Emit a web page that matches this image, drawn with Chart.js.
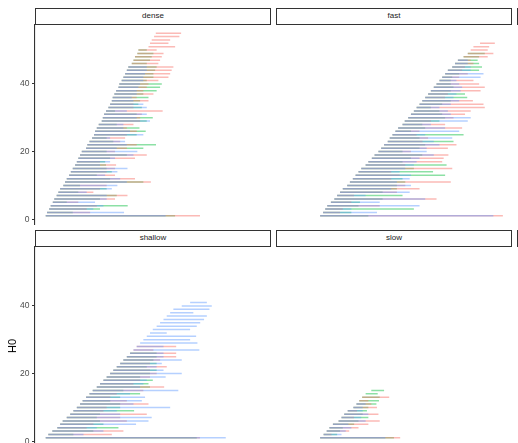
<!DOCTYPE html>
<html><head><meta charset="utf-8">
<script src="https://cdn.jsdelivr.net/npm/chart.js@4.4.0/dist/chart.umd.min.js"></script>
<style>
html,body{margin:0;padding:0;background:#fff;overflow:hidden;width:518px;height:443px;position:relative;}
.strip{position:absolute;box-sizing:border-box;border:1.2px solid #333;background:#fff;height:17px;font:8px "Liberation Sans",Arial,sans-serif;color:#1a1a1a;text-align:center;line-height:14.5px;}
canvas{position:absolute;}
#ytitle{position:absolute;left:12px;top:346px;transform:translate(-50%,-50%) rotate(-90deg);font:11px "Liberation Sans",Arial,sans-serif;color:#000;white-space:nowrap;}
</style></head><body>
<script>
// ---------- data (x in arbitrary time units, rows = H0) ----------
const facets = ['dense','fast','shallow','slow'];
const yTicks = [0,20,40];

const denseStart = [0,0.6,1.6,2.3,3.3,4.0,5.1,5.9,6.7,8.2,9.0,9.8,10.9,11.7,12.6,13.7,14.5,15.2,16.0,16.8,18.8,19.4,20.4,21.6,22.5,23.0,23.8,24.7,26.1,26.6,27.2,28.1,29.2,30.0,30.8,31.2,32.0,32.8,33.9,34.3,35.4,36.2,37.0,37.8,38.5,40.1,40.9,41.6,42.7,43.2,47.9,48.6,49.4,50.5,51.3];
const denseRed = [71.9,20.7,19.1,23.8,15.2,32.3,38.1,22.2,25.3,28.4,49.0,41.6,32.3,28.4,32.3,32.8,25.3,41.6,47.1,32.3,37.8,42.4,34.7,37.0,37.8,42.4,37.8,40.9,44.0,44.0,44.8,54.5,40.9,40.9,47.9,42.4,50.2,45.5,47.1,47.9,52.5,57.2,58.0,58.7,59.5,52.5,53.3,54.1,54.9,51.7,60.3,57.2,58.0,62.3,63.1];
const denseGreen = [60.3,12.6,25.3,38.2,9.8,25.3,33.1,15.2,28.4,16.0,45.5,30.0,23.8,30.8,28.4,28.1,27.7,30.0,37.8,28.4,45.5,51.4,31.5,28.4,42.4,46.6,43.7,33.1,47.1,49.9,42.4,32.3,44.8,43.2,44.0,47.9,45.5,51.7,53.3,54.1,47.1,50.2,50.2,51.0,51.7,47.1,48.6,49.4,50.2,47.1,null,null,null,null,null];
const denseBlue = [55.9,36.5,22.2,26.9,23.0,28.4,28.4,19.1,30.8,33.4,37.8,34.7,27.7,33.4,38.1,25.3,30.0,32.3,40.9,42.7,33.1,37.8,37.0,30.0,45.5,39.3,36.2,36.2,48.6,42.4,47.1,37.8,47.1,45.5,40.9,40.1,42.4,42.4,43.2,44.0,45.5,45.5,46.3,47.1,47.1,null,null,null,null,null,null,null,null,null,null];

const fastStart = [0,1.6,2.8,3.9,5.9,7.8,9.3,10.9,12.4,14.8,16.3,17.9,19.4,21.0,22.5,24.9,26.4,28.3,29.8,31.9,33.4,35.0,37.0,38.1,39.6,41.2,42.7,45.1,46.3,48.2,49.7,51.3,52.8,54.4,55.9,57.5,59.1,60.6,62.2,63.7,65.3,66.8,68.4,69.9,72.3,73.8,75.4,78.5,80.8,82.4,83.9,87.5];
const fastRed = [100,10.9,12.4,32.6,17.1,63.7,18.6,42.0,54.4,46.6,71.5,38.9,43.5,38.9,72.3,46.6,66.8,67.6,70.2,49.7,69.9,74.6,56.0,59.1,52.8,54.4,77.7,68.4,60.6,73.0,79.3,82.4,90.1,89.4,83.6,68.4,69.9,87.8,90.1,87.0,83.9,76.1,80.8,77.7,79.3,83.9,82.4,91.7,94.8,91.7,92.5,95.6];
const fastGreen = [26.4,17.1,51.3,21.0,21.8,34.2,45.1,34.2,42.0,42.0,46.6,45.1,68.4,61.8,51.3,69.2,45.1,49.7,55.9,45.1,54.4,57.5,73.0,54.4,78.5,49.7,57.5,55.9,65.3,68.4,66.8,65.3,60.6,66.8,71.5,80.5,79.3,71.5,73.0,71.5,71.5,72.3,76.1,87.0,88.6,87.0,86.2,87.0,90.1,null,null,null];
const fastBlue = [94.8,31.1,17.1,54.4,32.6,57.5,24.9,49.0,38.9,49.7,42.0,49.0,49.7,43.5,46.6,51.3,52.8,54.4,62.2,58.3,58.3,65.3,62.2,72.3,57.5,76.1,68.4,60.6,80.8,82.4,71.5,69.9,65.3,71.5,76.1,73.0,74.6,76.9,77.7,76.1,74.6,87.8,89.4,82.4,82.4,80.8,80.8,null,null,null,null,null];

const shallowStart = [0,1.2,3.1,5.4,6.7,7.9,9.8,11.4,12.9,14.5,16.0,17.2,18.8,20.4,21.9,23.8,25.3,26.9,28.4,30.0,31.5,33.1,34.7,36.2,37.8,39.3,40.9,42.4,44.0,45.5,47.1,48.6,49.9,51.7,53.3,54.9,56.4,58.0,59.5,63.4,67.3];
const shallowRed = [71.9,30.8,36.2,19.1,22.2,37.8,34.7,47.1,26.9,28.4,47.9,37.8,30.1,33.1,45.5,55.2,40.9,44.0,48.6,51.7,48.6,56.4,48.6,53.3,60.8,60.8,50.2,60.8,null,null,null,null,null,null,null,null,null,null,null,null,null];
const shallowGreen = [70.4,12.9,22.2,33.9,26.9,25.3,23.8,25.3,41.2,34.7,34.7,30.1,34.7,44.0,36.2,48.6,47.9,49.9,44.0,48.6,51.7,47.1,51.7,50.2,51.7,51.7,null,null,null,null,null,null,null,null,null,null,null,null,null,null,null];
const shallowBlue = [83.9,17.6,26.9,23.8,42.1,47.9,49.4,34.7,33.1,58.0,40.9,44.8,46.3,39.3,61.8,44.0,45.5,47.1,55.9,63.4,54.9,51.7,54.1,63.4,54.9,54.9,71.6,54.9,70.7,67.3,70.1,56.4,67.3,70.4,72.0,73.8,75.1,68.8,76.3,77.4,75.1];

const slowStart = [0,1.9,3.6,5.1,7.0,10.1,11.7,13.2,15.1,18.2,19.9,21.4,23.0,24.9,28.0];
const slowRed = [43.8,6.2,15.9,21.0,26.4,32.6,18.6,31.9,20.2,31.1,28.0,26.4,37.8,null,null];
const slowGreen = [40.4,9.3,10.9,12.4,18.6,21.0,26.4,23.3,25.6,26.4,30.8,32.2,32.6,31.5,35.0];
const slowBlue = [35.7,11.7,14.0,17.1,15.5,24.9,22.5,26.4,23.3,23.3,24.9,null,null,null,null];

// ---------- drawing ----------
const COLORS = {red:'rgba(248,118,109,0.5)', green:'rgba(0,186,56,0.45)', blue:'rgba(97,156,255,0.47)'};
const XMIN=-5, XMAX=105, YMIN=-1.7, YMAX=57.7;

function segData(start, ends){
  const out=[];
  for(let i=0;i<start.length;i++){
    if(ends[i]==null) continue;
    const y=i+1;
    out.push({x:start[i],y:y},{x:ends[i],y:y},{x:ends[i],y:null});
  }
  return out;
}

const setup = [
  {name:'dense', s:denseStart, r:denseRed, g:denseGreen, b:denseBlue, left:0, top:24, axis:true},
  {name:'fast', s:fastStart, r:fastRed, g:fastGreen, b:fastBlue, left:276, top:24, axis:false},
  {name:'shallow', s:shallowStart, r:shallowRed, g:shallowGreen, b:shallowBlue, left:0, top:246, axis:true},
  {name:'slow', s:slowStart, r:slowRed, g:slowGreen, b:slowBlue, left:276, top:246, axis:false}
];

setup.forEach(p=>{
  const cv=document.createElement('canvas');
  const w = p.axis ? 271 : 236, h = 201;
  cv.width=w; cv.height=h;
  cv.style.left=p.left+'px'; cv.style.top=p.top+'px';
  cv.style.width=w+'px'; cv.style.height=h+'px';
  document.body.appendChild(cv);
  const mk=(ends,col)=>({data:segData(p.s,ends),borderColor:col,borderWidth:1.5,borderCapStyle:'butt',pointRadius:0,spanGaps:false,fill:false,tension:0});
  new Chart(cv,{
    type:'line',
    // first dataset is painted on top in Chart.js
    data:{datasets:[mk(p.b,COLORS.blue),mk(p.r,COLORS.red),mk(p.g,COLORS.green)]},
    options:{
      responsive:false, animation:false, devicePixelRatio:1,
      layout:{padding:0},
      plugins:{legend:{display:false},tooltip:{enabled:false}},
      scales:{
        x:{type:'linear',min:XMIN,max:XMAX,display:false},
        y:{type:'linear',min:YMIN,max:YMAX,display:p.axis,
          afterBuildTicks:(sc)=>{sc.ticks=yTicks.map(v=>({value:v}));},
          afterFit:(sc)=>{sc.width=35;sc.paddingTop=0;sc.paddingBottom=0;},
          grid:{drawOnChartArea:false,drawTicks:true,tickLength:3,color:'#333',lineWidth:1},
          border:{display:true,color:'#333',width:1.1},
          ticks:{padding:2.5,color:'#4d4d4d',font:{family:'"Liberation Sans", Arial, sans-serif',size:8.5}}
        }
      }
    }
  });
});

// strips
const strips=[['dense',35,7.5,236],['fast',276,7.5,236],['shallow',35,229.5,236],['slow',276,229.5,236],['',516.5,7.5,236],['',516.5,229.5,236]];
strips.forEach(([t,l,tp,w])=>{
  const d=document.createElement('div');d.className='strip';
  d.style.left=l+'px';d.style.top=tp+'px';d.style.width=w+'px';d.textContent=t;
  document.body.appendChild(d);
});
const yt=document.createElement('div');yt.id='ytitle';yt.textContent='H0';document.body.appendChild(yt);
</script>
</body></html>
